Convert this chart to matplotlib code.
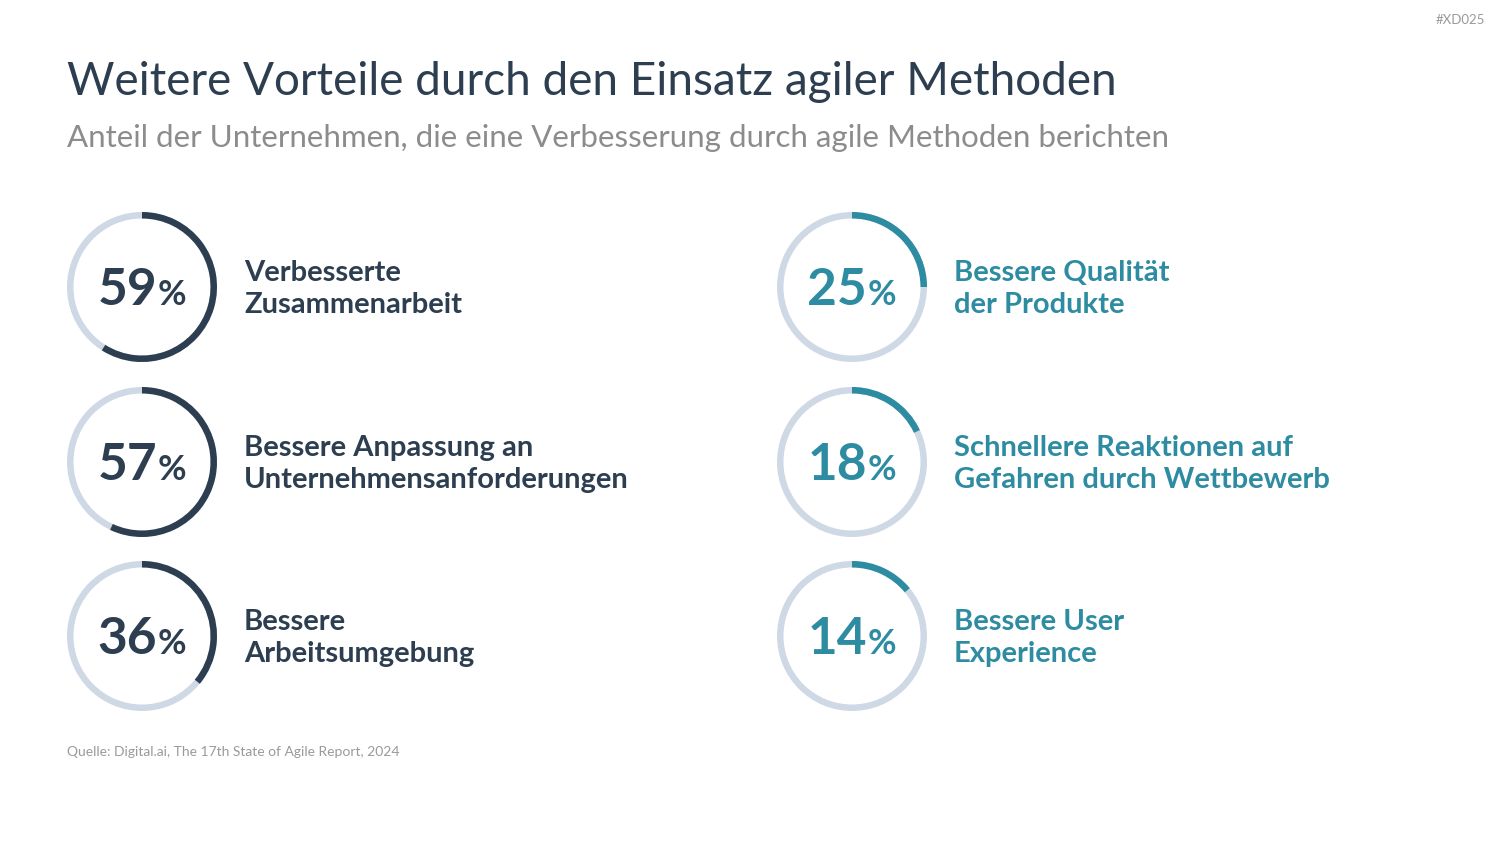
import matplotlib
matplotlib.use("Agg")
import matplotlib.pyplot as plt
from matplotlib.patches import Wedge

plt.rcParams['font.family'] = ['Lato', 'DejaVu Sans']

# data
title = "Weitere Vorteile durch den Einsatz agiler Methoden"
subtitle = "Anteil der Unternehmen, die eine Verbesserung durch agile Methoden berichten"
source = "Quelle: Digital.ai, The 17th State of Agile Report, 2024"
tag = "#XD025"

left_values = [59, 57, 36]
left_labels = ["Verbesserte\nZusammenarbeit",
               "Bessere Anpassung an\nUnternehmensanforderungen",
               "Bessere\nArbeitsumgebung"]
right_values = [25, 18, 14]
right_labels = ["Bessere Qualität\nder Produkte",
                "Schnellere Reaktionen auf\nGefahren durch Wettbewerb",
                "Bessere User\nExperience"]

navy = "#2c3e50"
teal = "#2e8ca2"
ring = "#cfd9e5"

fig = plt.figure(figsize=(15, 8.44), dpi=100)
ax = fig.add_axes([0, 0, 1, 1])
ax.set_xlim(0, 1500)
ax.set_ylim(844, 0)
ax.axis('off')

ax.text(67, 95, title, fontsize=33, color=navy, va='baseline')
ax.text(67, 147, subtitle, fontsize=22.5, color="#8c8c8c", va='baseline')
ax.text(67, 756, source, fontsize=10, color="#9a9a9a", va='baseline')
ax.text(1485, 24, tag, fontsize=9.5, color="#9a9a9a", ha='right', va='baseline')

rows_y = [287, 462, 636]
r_out = 75
w = 6.5


def donut(cx, cy, pct, color, label):
    ax.add_patch(Wedge((cx, cy), r_out, 0, 360, width=w, facecolor=ring, edgecolor='none'))
    ax.add_patch(Wedge((cx, cy), r_out, -90, -90 + pct * 3.6, width=w,
                       facecolor=color, edgecolor='none'))
    ax.text(cx + 15, cy + 18, str(pct), fontsize=37, fontweight='bold', color=color,
            ha='right', va='baseline')
    ax.text(cx + 16, cy + 18, "%", fontsize=25, fontweight='bold', color=color,
            ha='left', va='baseline')
    # va='baseline' anchors the last line of the label
    ax.text(cx + 102, cy + 26, label, fontsize=21, fontweight='bold', color=color,
            ha='left', va='baseline', linespacing=1.3)


for y, v, lab in zip(rows_y, left_values, left_labels):
    donut(142, y, v, navy, lab)
for y, v, lab in zip(rows_y, right_values, right_labels):
    donut(852, y, v, teal, lab)

fig.savefig("out.png", dpi=100, facecolor='white')
